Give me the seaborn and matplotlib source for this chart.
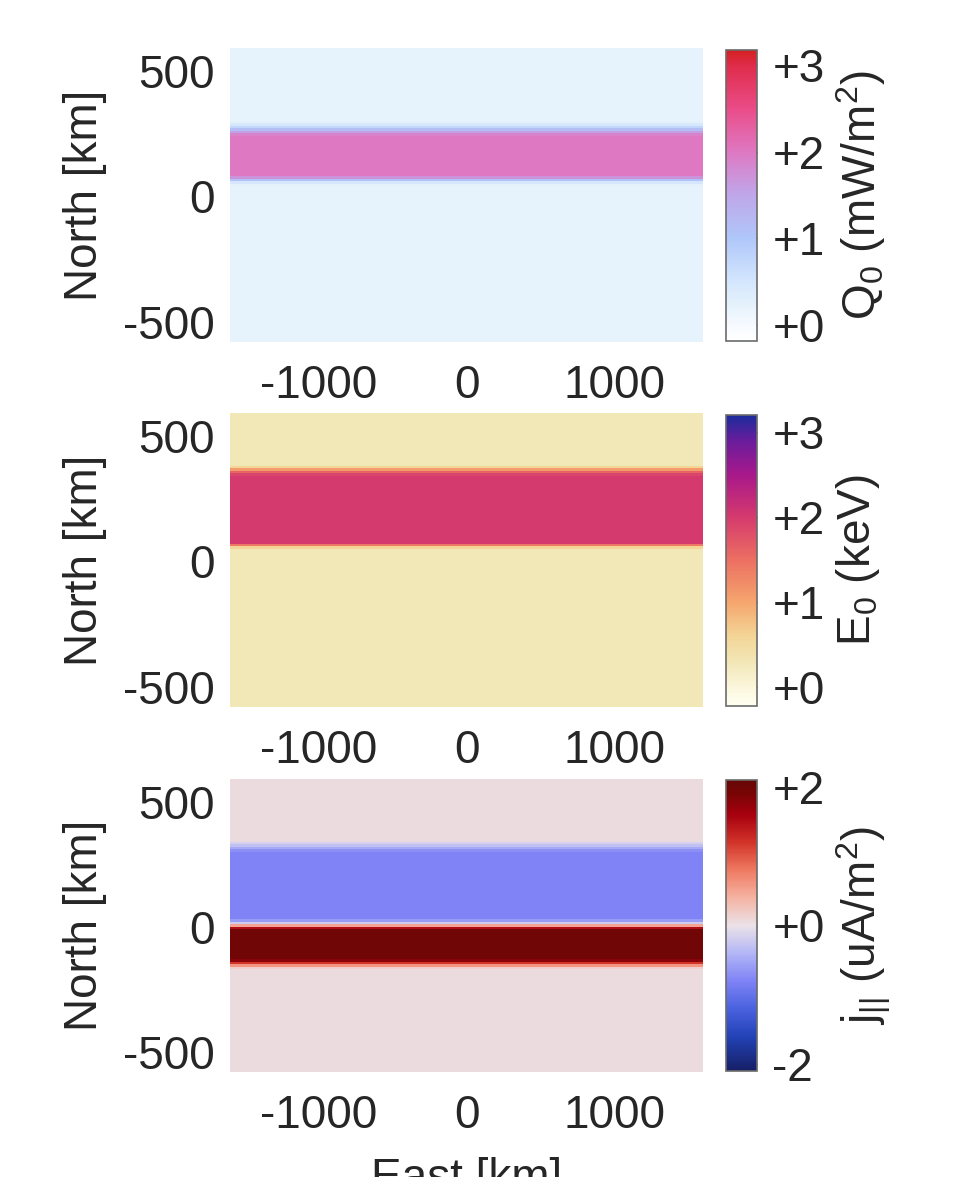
import numpy as np
import pandas as pd
import matplotlib
matplotlib.use("Agg")
import matplotlib.pyplot as plt
from matplotlib.colors import LinearSegmentedColormap
import seaborn as sns

sns.set_style("white")
plt.rcParams["font.family"] = ["Liberation Sans", "DejaVu Sans"]
plt.rcParams["mathtext.default"] = "regular"
plt.rcParams["text.color"] = "#262626"
plt.rcParams["axes.labelcolor"] = "#262626"
plt.rcParams["xtick.color"] = "#262626"
plt.rcParams["ytick.color"] = "#262626"

FS = 33

# ---- grid (km) ----
east_edges_km = [-1600, 1600]
east_step_km = 200
north_edges_km = [-580, 590]
north_step_km = 10

# ---- north profiles (top row = 585 km, step -10 km, down to -575 km) ----
q0_profile = ([0.2] * 29
              + [0.25, 0.45, 0.75, 1.15, 1.55, 1.9]
              + [2.0] * 16
              + [1.7, 1.1, 0.5, 0.25]
              + [0.2] * 62)

e0_profile = ([0.3] * 21
              + [0.6, 1.1, 1.6, 1.9]
              + [2.0] * 27
              + [1.4, 0.6]
              + [0.3] * 63)

j_profile = ([0.05] * 25
             + [-0.15, -0.3, -0.5, -0.7]
             + [-0.8] * 27
             + [-0.6, -0.2, 0.5, 1.5]
             + [2.0] * 12
             + [1.8, 1.2, 0.6, 0.15]
             + [0.05] * 41)

# ---- tick labels ----
east_ticks = [-1000, 0, 1000]
north_ticks = [500, 0, -500]
q0_cbar_ticks = [0, 1, 2, 3]
q0_cbar_labels = ["+0", "+1", "+2", "+3"]
e0_cbar_ticks = [0, 1, 2, 3]
e0_cbar_labels = ["+0", "+1", "+2", "+3"]
j_cbar_ticks = [-2, 0, 2]
j_cbar_labels = ["-2", "+0", "+2"]

# ---- colormaps ----
def ramp(name, stops, vmin, vmax):
    return LinearSegmentedColormap.from_list(
        name, [((v - vmin) / (vmax - vmin), c) for v, c in stops])

q0_lim = (-0.18, 3.17)
q0_cmap = ramp("q0", [(-0.18, "#ffffff"), (0.0, "#f6faff"), (0.25, "#e3f1fb"),
                      (0.5, "#d4e6fd"), (1.0, "#afc7fa"), (1.5, "#bfa7ea"),
                      (2.0, "#de78c2"), (2.5, "#ea4c88"), (3.0, "#df2c4a"),
                      (3.17, "#d42020")], *q0_lim)

e0_lim = (-0.22, 3.2)
e0_cmap = ramp("e0", [(-0.22, "#fffff2"), (0.0, "#fbf6dc"), (0.3, "#f2e6b5"),
                      (0.6, "#f3d596"), (1.0, "#f5a56d"), (1.5, "#ec6f62"),
                      (2.0, "#d53a6d"), (2.5, "#a8188a"), (2.9, "#6a1c9c"),
                      (3.2, "#1b2c9c")], *e0_lim)

j_lim = (-2.1, 2.1)
j_cmap = ramp("j", [(-2.1, "#161f66"), (-1.6, "#2343b8"), (-1.2, "#4a62df"),
                    (-0.8, "#7f83f5"), (-0.4, "#b3b6f6"), (0.0, "#ebe2e8"),
                    (0.4, "#f5b3a2"), (0.8, "#ef7a62"), (1.2, "#d2342a"),
                    (1.6, "#a8000f"), (1.9, "#7a0404"), (2.1, "#660808")], *j_lim)

# ---- layout in pixels ----
W, H = 961, 1177
fig = plt.figure(figsize=(W / 100, H / 100), dpi=100)


def px_axes(x0, y0, x1, y1):
    return fig.add_axes([x0 / W, 1 - y1 / H, (x1 - x0) / W, (y1 - y0) / H])


panels = [
    (q0_profile, q0_cmap, q0_lim, q0_cbar_ticks, q0_cbar_labels,
     "Q$_0$ (mW/m$^2$)", (48, 342), (50, 341)),
    (e0_profile, e0_cmap, e0_lim, e0_cbar_ticks, e0_cbar_labels,
     "E$_0$ (keV)", (413, 707), (415, 706)),
    (j_profile, j_cmap, j_lim, j_cbar_ticks, j_cbar_labels,
     "j$_{||}$ (uA/m$^2$)", (779, 1072), (780, 1071)),
]

east_centers = np.arange(east_edges_km[0] + east_step_km / 2, east_edges_km[1], east_step_km)
north_centers = np.arange(north_edges_km[1] - north_step_km / 2, north_edges_km[0], -north_step_km)

for i, (prof, cmap, lim, cticks, clabels, clabel, (ay0, ay1), (cy0, cy1)) in enumerate(panels):
    ax = px_axes(230, ay0, 703, ay1)
    cax = px_axes(726, cy0, 757, cy1)
    grid = pd.DataFrame(np.repeat(np.asarray(prof)[:, None], len(east_centers), axis=1),
                        index=north_centers, columns=east_centers)
    sns.heatmap(grid, ax=ax, cbar_ax=cax, cmap=cmap, vmin=lim[0], vmax=lim[1],
                xticklabels=False, yticklabels=False)
    # map km to heatmap cell coordinates
    ax.set_xticks([(e - east_edges_km[0]) / east_step_km for e in east_ticks])
    ax.set_xticklabels([str(e) for e in east_ticks])
    ax.set_yticks([(north_edges_km[1] - n) / north_step_km for n in north_ticks])
    ax.set_yticklabels([str(n) for n in north_ticks], rotation=0)
    ax.tick_params(axis="both", length=0, labelsize=FS)
    ax.tick_params(axis="x", pad=16)
    ax.tick_params(axis="y", pad=11)
    ax.set_ylabel("North [km]", fontsize=FS)
    ax.yaxis.set_label_coords(-0.26, 0.5)
    if i == 2:
        ax.set_xlabel("East [km]", fontsize=FS)
        ax.xaxis.set_label_coords(0.5, -0.29)
    else:
        ax.set_xlabel("")

    cbar = ax.collections[0].colorbar
    cbar.set_ticks(cticks, labels=clabels)
    cbar.outline.set_edgecolor("#6b6b6b")
    cbar.outline.set_linewidth(1.2)
    cax.tick_params(direction="in", length=4, width=1, color="#262626",
                    labelsize=FS, pad=11)
    cbar.set_label(clabel, fontsize=FS)
    cax.yaxis.set_label_coords(3.5, 0.5)

fig.savefig("out.png", dpi=100)
